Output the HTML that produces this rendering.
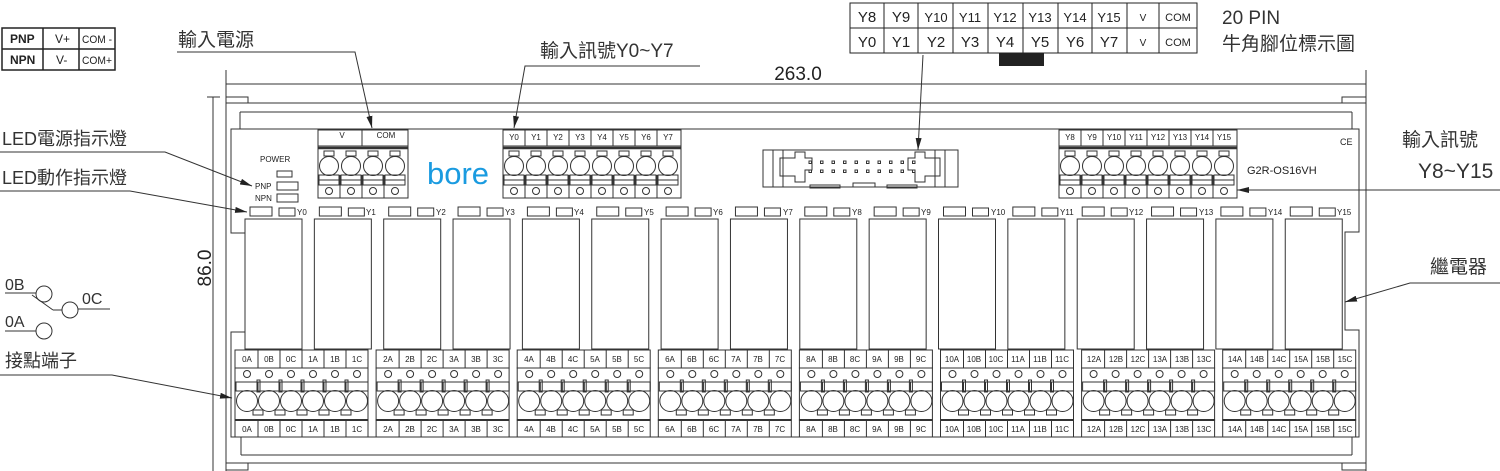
<!DOCTYPE html>
<html><head><meta charset="utf-8">
<style>
html,body{margin:0;padding:0;background:#fff;}
svg{display:block;}
.t{font-family:"Liberation Sans",Arial,sans-serif;fill:#222;}
.c{font-family:"Liberation Sans","Noto Sans CJK TC",sans-serif;fill:#333;}
.s{font-family:"Liberation Sans",sans-serif;font-size:8px;fill:#222;text-anchor:middle;}
.l{font-family:"Liberation Sans",sans-serif;font-size:8px;fill:#222;}
</style></head>
<body>
<svg id="sv" width="1500" height="471" viewBox="0 0 1500 471" xmlns="http://www.w3.org/2000/svg">
<defs><marker id="ar" markerWidth="12" markerHeight="6" refX="12" refY="3" orient="auto" markerUnits="userSpaceOnUse"><path d="M0,0 L12,3 L0,6 z" fill="#222"/></marker></defs>
<g id="shapes" fill="none" stroke="#333" stroke-width="1"></g>

<!-- top-left table -->
<g stroke="#222" stroke-width="1.5" fill="none"><rect x="2" y="28" width="113" height="42"/><line x1="2" y1="49" x2="115" y2="49"/><line x1="43" y1="28" x2="43" y2="70"/><line x1="79" y1="28" x2="79" y2="70"/></g>
<g class="t" font-size="12"><text x="10" y="43" font-weight="bold">PNP</text><text x="10" y="64" font-weight="bold">NPN</text><text x="55" y="43">V+</text><text x="56" y="64">V-</text><text x="82" y="43" font-size="11" textLength="30" lengthAdjust="spacingAndGlyphs">COM -</text><text x="82" y="64" font-size="11" textLength="30" lengthAdjust="spacingAndGlyphs">COM+</text></g>

<!-- top pin table -->
<g stroke="#222" stroke-width="1" fill="none"><rect x="850" y="3" width="347" height="50"/><line x1="850" y1="28" x2="1197" y2="28"/>
<line x1="884" y1="3" x2="884" y2="53"/><line x1="918" y1="3" x2="918" y2="53"/><line x1="953" y1="3" x2="953" y2="53"/><line x1="988" y1="3" x2="988" y2="53"/><line x1="1023" y1="3" x2="1023" y2="53"/><line x1="1058" y1="3" x2="1058" y2="53"/><line x1="1092" y1="3" x2="1092" y2="53"/><line x1="1127" y1="3" x2="1127" y2="53"/><line x1="1159" y1="3" x2="1159" y2="53"/></g>
<rect x="999" y="53" width="45" height="13" fill="#222"/>
<g class="t" font-size="15" text-anchor="middle"><text x="867" y="22">Y8</text><text x="901" y="22">Y9</text><text x="936" y="22" font-size="13">Y10</text><text x="970" y="22" font-size="13">Y11</text><text x="1005" y="22" font-size="13">Y12</text><text x="1040" y="22" font-size="13">Y13</text><text x="1075" y="22" font-size="13">Y14</text><text x="1109" y="22" font-size="13">Y15</text><text x="1143" y="21" font-size="10">V</text><text x="1178" y="21" font-size="11">COM</text>
<text x="867" y="47">Y0</text><text x="901" y="47">Y1</text><text x="936" y="47">Y2</text><text x="970" y="47">Y3</text><text x="1005" y="47">Y4</text><text x="1040" y="47">Y5</text><text x="1075" y="47">Y6</text><text x="1109" y="47">Y7</text><text x="1143" y="46" font-size="10">V</text><text x="1178" y="46" font-size="11">COM</text></g>
<text class="c" x="1222" y="24" font-size="19">20 PIN</text>
<text class="c" x="1222" y="50" font-size="19">牛角腳位標示圖</text>

<!-- annotations -->
<g class="c" font-size="19">
<text x="178" y="46">輸入電源</text>
<text x="540" y="57">輸入訊號Y0~Y7</text>
<text x="2" y="145" font-size="18">LED電源指示燈</text>
<text x="2" y="184" font-size="18">LED動作指示燈</text>
<text x="5" y="367" font-size="18">接點端子</text>
<text x="1402" y="146">輸入訊號</text>
<text x="1418" y="178" font-size="21">Y8~Y15</text>
<text x="1430" y="273">繼電器</text>
<text x="5" y="290" font-size="16">0B</text>
<text x="82" y="304" font-size="16">0C</text>
<text x="5" y="327" font-size="16">0A</text>
</g>
<g stroke="#333" stroke-width="1" fill="none">
<polyline points="177,52 355,52 372,128" marker-end="url(#ar)"/>
<polyline points="700,66 525,66 514,128" marker-end="url(#ar)"/>
<line x1="923" y1="55" x2="918" y2="150" marker-end="url(#ar)"/>
<polyline points="0,152 165,152 252,186" marker-end="url(#ar)"/>
<polyline points="0,191 130,191 247,212" marker-end="url(#ar)"/>
<polyline points="0,375 112,375 232,398" marker-end="url(#ar)"/>
<line x1="1500" y1="190" x2="1237" y2="190" marker-end="url(#ar)"/>
<polyline points="1500,283 1410,283 1345,302" marker-end="url(#ar)"/>
<line x1="5" y1="293" x2="36" y2="293"/><circle cx="44" cy="294" r="8"/>
<line x1="32" y1="295" x2="53" y2="310"/><line x1="53" y1="310" x2="62" y2="310"/>
<circle cx="70" cy="310" r="8"/><line x1="78" y1="309" x2="110" y2="309"/>
<line x1="5" y1="331" x2="36" y2="331"/><circle cx="44" cy="331" r="8"/>
</g>

<!-- dimensions -->
<text class="t" x="798" y="80" font-size="19" text-anchor="middle">263.0</text>
<text class="t" x="0" y="0" font-size="19" text-anchor="middle" transform="translate(211,268) rotate(-90)">86.0</text>

<!-- labels on device -->
<text x="427" y="184" font-family="Liberation Sans,sans-serif" font-size="31" fill="#1a9be0">bore</text>
<text class="t" x="1247" y="174" font-size="11">G2R-OS16VH</text>
<text class="t" x="1340" y="145" font-size="9">CE</text>
<text class="l" x="260" y="162">POWER</text>
<text class="l" x="255" y="189">PNP</text>
<text class="l" x="255" y="201">NPN</text>
<g class="s">
<text x="342" y="138">V</text><text x="386" y="138">COM</text>
<text x="514" y="140">Y0</text><text x="536" y="140">Y1</text><text x="558" y="140">Y2</text><text x="580" y="140">Y3</text><text x="602" y="140">Y4</text><text x="624" y="140">Y5</text><text x="646" y="140">Y6</text><text x="668" y="140">Y7</text>
<text x="1070" y="140">Y8</text><text x="1092" y="140">Y9</text><text x="1114" y="140">Y10</text><text x="1136" y="140">Y11</text><text x="1158" y="140">Y12</text><text x="1180" y="140">Y13</text><text x="1202" y="140">Y14</text><text x="1224" y="140">Y15</text>
</g>
<g class="l">
<text x="297" y="215">Y0</text><text x="366" y="215">Y1</text><text x="436" y="215">Y2</text><text x="505" y="215">Y3</text><text x="574" y="215">Y4</text><text x="644" y="215">Y5</text><text x="713" y="215">Y6</text><text x="783" y="215">Y7</text><text x="852" y="215">Y8</text><text x="921" y="215">Y9</text><text x="991" y="215">Y10</text><text x="1060" y="215">Y11</text><text x="1129" y="215">Y12</text><text x="1199" y="215">Y13</text><text x="1268" y="215">Y14</text><text x="1337" y="215">Y15</text>
</g>
<g class="s">
<text x="247" y="362">0A</text><text x="269" y="362">0B</text><text x="291" y="362">0C</text><text x="313" y="362">1A</text><text x="335" y="362">1B</text><text x="357" y="362">1C</text>
<text x="388" y="362">2A</text><text x="410" y="362">2B</text><text x="432" y="362">2C</text><text x="454" y="362">3A</text><text x="476" y="362">3B</text><text x="498" y="362">3C</text>
<text x="529" y="362">4A</text><text x="551" y="362">4B</text><text x="573" y="362">4C</text><text x="595" y="362">5A</text><text x="617" y="362">5B</text><text x="639" y="362">5C</text>
<text x="670" y="362">6A</text><text x="692" y="362">6B</text><text x="714" y="362">6C</text><text x="736" y="362">7A</text><text x="758" y="362">7B</text><text x="780" y="362">7C</text>
<text x="811" y="362">8A</text><text x="833" y="362">8B</text><text x="855" y="362">8C</text><text x="877" y="362">9A</text><text x="899" y="362">9B</text><text x="921" y="362">9C</text>
<text x="952" y="362">10A</text><text x="974" y="362">10B</text><text x="996" y="362">10C</text><text x="1018" y="362">11A</text><text x="1040" y="362">11B</text><text x="1062" y="362">11C</text>
<text x="1094" y="362">12A</text><text x="1116" y="362">12B</text><text x="1138" y="362">12C</text><text x="1160" y="362">13A</text><text x="1182" y="362">13B</text><text x="1204" y="362">13C</text>
<text x="1235" y="362">14A</text><text x="1257" y="362">14B</text><text x="1279" y="362">14C</text><text x="1301" y="362">15A</text><text x="1323" y="362">15B</text><text x="1345" y="362">15C</text>
</g>
<g class="s">
<text x="247" y="432">0A</text><text x="269" y="432">0B</text><text x="291" y="432">0C</text><text x="313" y="432">1A</text><text x="335" y="432">1B</text><text x="357" y="432">1C</text>
<text x="388" y="432">2A</text><text x="410" y="432">2B</text><text x="432" y="432">2C</text><text x="454" y="432">3A</text><text x="476" y="432">3B</text><text x="498" y="432">3C</text>
<text x="529" y="432">4A</text><text x="551" y="432">4B</text><text x="573" y="432">4C</text><text x="595" y="432">5A</text><text x="617" y="432">5B</text><text x="639" y="432">5C</text>
<text x="670" y="432">6A</text><text x="692" y="432">6B</text><text x="714" y="432">6C</text><text x="736" y="432">7A</text><text x="758" y="432">7B</text><text x="780" y="432">7C</text>
<text x="811" y="432">8A</text><text x="833" y="432">8B</text><text x="855" y="432">8C</text><text x="877" y="432">9A</text><text x="899" y="432">9B</text><text x="921" y="432">9C</text>
<text x="952" y="432">10A</text><text x="974" y="432">10B</text><text x="996" y="432">10C</text><text x="1018" y="432">11A</text><text x="1040" y="432">11B</text><text x="1062" y="432">11C</text>
<text x="1094" y="432">12A</text><text x="1116" y="432">12B</text><text x="1138" y="432">12C</text><text x="1160" y="432">13A</text><text x="1182" y="432">13B</text><text x="1204" y="432">13C</text>
<text x="1235" y="432">14A</text><text x="1257" y="432">14B</text><text x="1279" y="432">14C</text><text x="1301" y="432">15A</text><text x="1323" y="432">15B</text><text x="1345" y="432">15C</text>
</g>
</svg>
<script>
(function(){
var g=document.getElementById('shapes'),NS='http://www.w3.org/2000/svg';
function el(t,a){var e=document.createElementNS(NS,t);for(var k in a)e.setAttribute(k,a[k]);g.appendChild(e);return e;}
function L(x1,y1,x2,y2,w){el('line',{x1:x1,y1:y1,x2:x2,y2:y2,'stroke-width':w||1});}
function R(x,y,w,h,sw){el('rect',{x:x,y:y,width:w,height:h,'stroke-width':sw||1});}
function C(x,y,r){el('circle',{cx:x,cy:y,r:r});}
function P(d){el('path',{d:d});}
L(226,84,1366,84);L(226,70,226,471);L(1366,70,1366,471);
L(213,97,213,471);L(207,97,220,97);
R(226,97,22,6);R(1342,97,24,6);L(248,103,1342,103);
L(240,112,1352,112);L(240,112,240,129);L(1352,112,1352,129);
P('M231,129 H1359 V232 H1345 V330 H1359 V437 H231 V332 H245 V233 H231 Z');
L(241,437,241,455);L(1352,437,1352,455);L(241,455,1352,455);
R(226,463,22,7);R(1342,463,24,7);L(248,463,1342,463);
R(277,171,15,6);R(277,182,21,8);R(277,194,21,8);
function conn(x0,n,hdr){
 var w=n*22+2;
 R(x0,130,w,16);
 if(hdr){for(var i=1;i<n;i++)L(x0+i*22,130,x0+i*22,146);}
 R(x0,146,w,52);L(x0,148,x0+w,148,2.5);
 for(var i=0;i<n;i++){var cx=x0+11+i*22;
  R(cx-5,151,10,5);C(cx,166,9.5);R(cx-10,175,20,10);L(cx-10,180,cx+10,180);C(cx,191,3.5);
  if(i>0)L(x0+i*22,175,x0+i*22,198);}
}
conn(318,4,false);L(362,130,362,146);
conn(503,8,true);conn(1059,8,true);
R(763,150,195,37);
P('M780,158 H795 V152 H805 V158 H812 V170 H805 V182 H795 V176 H780 Z');
P('M940,158 H925 V152 H915 V158 H908 V170 H915 V182 H925 V176 H940 Z');
for(var i=0;i<10;i++){R(809+i*11.5,161,2.5,2.5);R(809+i*11.5,170,2.5,2.5);}
R(810,185,30,3);R(853,183,22,4);R(887,185,30,3);
R(773,150,10,37);R(935,150,10,37);
for(var k=0;k<16;k++){var r=245+69.35*k;
 R(r+5,207,22,9);R(r+34,208,16,8);R(r,219,57,130);}
for(var gi=0;gi<8;gi++){var B=235+141.1*gi;
 R(B,350,133,18);for(var i=1;i<6;i++)L(B+1+i*22,350,B+1+i*22,368);
 R(B,368,133,52);L(B,420,B+133,420,2);
 R(B,420,133,17);for(var i=1;i<6;i++)L(B+1+i*22,420,B+1+i*22,437);
 for(var i=0;i<6;i++){var cx=B+12+i*22;
  C(cx,374,3.5);R(cx-11,382,22,9);C(cx,401,10.5);
  if(i>0)R(cx-12,380,3,12);
  if(i<5)R(cx+6,410,10,5);}
}
})();
</script>
</body></html>
